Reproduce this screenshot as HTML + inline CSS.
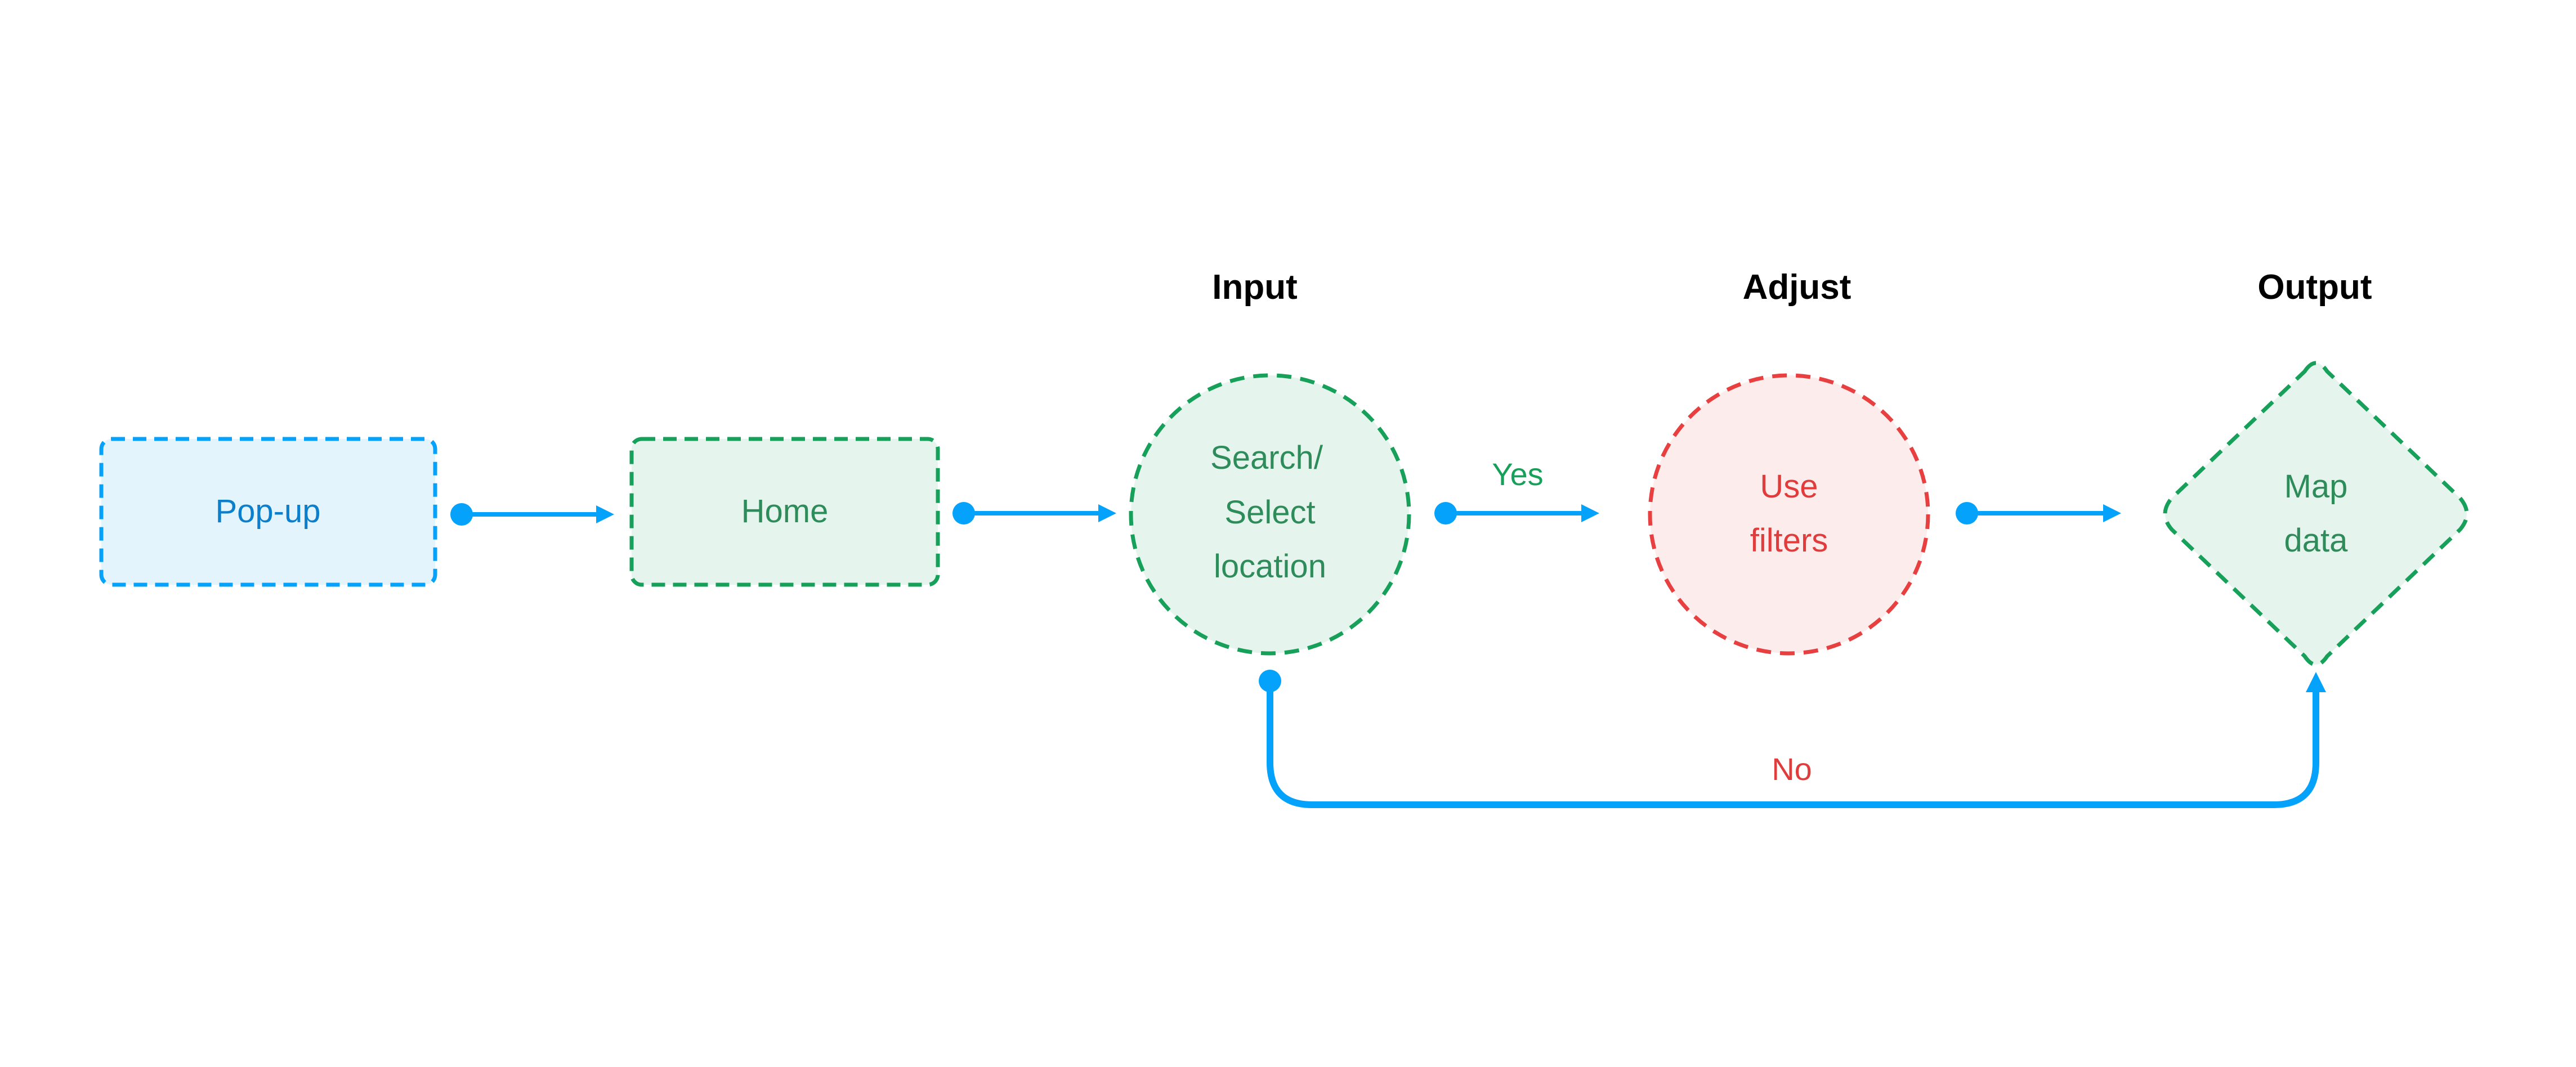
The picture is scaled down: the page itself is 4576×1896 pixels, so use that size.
<!DOCTYPE html>
<html><head><meta charset="utf-8"><style>
html,body{margin:0;padding:0;background:#fff;}
svg{display:block;}
text{font-family:"Liberation Sans",sans-serif;}
</style></head><body>
<svg width="4576" height="1896" viewBox="0 0 4576 1896" xmlns="http://www.w3.org/2000/svg">
<rect width="4576" height="1896" fill="#fff"/>
<defs>
<marker id="ah" markerWidth="4" markerHeight="4" refX="2" refY="2" orient="auto" markerUnits="strokeWidth">
<path d="M0,0 L4,2 L0,4 Z" fill="#04A2FB"/>
</marker>
</defs>
<!-- titles -->
<g font-weight="bold" font-size="62" fill="#000" text-anchor="middle">
<text x="2229" y="531">Input</text>
<text x="3192" y="531">Adjust</text>
<text x="4112" y="531">Output</text>
</g>
<!-- Pop-up -->
<rect x="180" y="780" width="593" height="259" rx="18" fill="#E3F4FD" stroke="#04A2FB" stroke-width="7" stroke-dasharray="24,14"/>
<text x="476" y="928" font-size="58" fill="#0B7FCB" text-anchor="middle">Pop-up</text>
<!-- Home -->
<rect x="1122" y="780" width="544" height="259" rx="18" fill="#E5F5EE" stroke="#17A05A" stroke-width="7" stroke-dasharray="24,14"/>
<text x="1394" y="928" font-size="58" fill="#2E8B5A" text-anchor="middle">Home</text>
<!-- Input circle -->
<circle cx="2256" cy="914" r="247" fill="#E5F5EE" stroke="#17A05A" stroke-width="7" stroke-dasharray="26,16"/>
<g font-size="58" fill="#2E8B5A" text-anchor="middle">
<text x="2250" y="833">Search/</text>
<text x="2256" y="930">Select</text>
<text x="2256" y="1026">location</text>
</g>
<!-- Adjust circle -->
<circle cx="3178" cy="914" r="247" fill="#FDECEC" stroke="#E84040" stroke-width="7" stroke-dasharray="26,16"/>
<g font-size="58" fill="#E03C3C" text-anchor="middle">
<text x="3178" y="884">Use</text>
<text x="3178" y="980">filters</text>
</g>
<!-- Diamond -->
<path d="M4094,660 Q4114,630 4134,660 L4370,885 Q4394,913 4370,941 L4134,1166 Q4114,1196 4094,1166 L3858,941 Q3834,913 3858,885 Z" fill="#E5F5EE" stroke="#17A05A" stroke-width="7" stroke-dasharray="26,16" stroke-linejoin="round"/>
<g font-size="58" fill="#2E8B5A" text-anchor="middle">
<text x="4114" y="884">Map</text>
<text x="4114" y="980">data</text>
</g>
<!-- connectors -->
<g stroke="#04A2FB" stroke-width="8" fill="none">
<line x1="820" y1="914" x2="1075" y2="914" marker-end="url(#ah)"/>
<line x1="1712" y1="912" x2="1967" y2="912" marker-end="url(#ah)"/>
<line x1="2568" y1="912" x2="2825" y2="912" marker-end="url(#ah)"/>
<line x1="3494" y1="912" x2="3752" y2="912" marker-end="url(#ah)"/>
<path d="M2256,1212 L2256,1355 Q2256,1430 2331,1430 L4039,1430 Q4114,1430 4114,1355 L4114,1212" stroke-width="12" marker-end="url(#ah2)"/>
</g>
<defs>
<marker id="ah2" markerWidth="3" markerHeight="3" refX="1.5" refY="1.5" orient="auto" markerUnits="strokeWidth">
<path d="M0,0 L3,1.5 L0,3 Z" fill="#04A2FB"/>
</marker>
</defs>
<g fill="#04A2FB">
<circle cx="820" cy="914" r="20"/>
<circle cx="1712" cy="912" r="20"/>
<circle cx="2568" cy="912" r="20"/>
<circle cx="3494" cy="912" r="20"/>
<circle cx="2256" cy="1210" r="20"/>
</g>
<text x="2696" y="862" font-size="56" fill="#17A05A" text-anchor="middle">Yes</text>
<text x="3183" y="1386" font-size="56" fill="#E03C3C" text-anchor="middle">No</text>
</svg>
</body></html>
